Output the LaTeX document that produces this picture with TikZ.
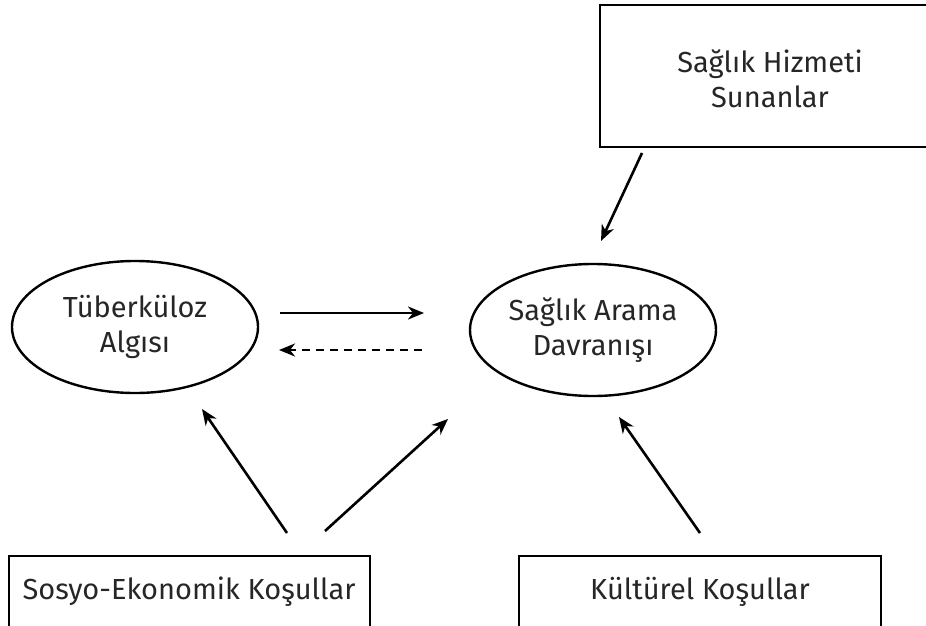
\documentclass[tikz,border=0pt]{standalone}
\usepackage{fontspec}
\setmainfont{Fira Sans}
\usetikzlibrary{arrows.meta,shapes.geometric}
\begin{document}
\begin{tikzpicture}[x=1pt,y=-1pt,
  every node/.style={font=\fontsize{29}{35}\selectfont, align=center, text=black!85},
  box/.style={draw, line width=1.5pt},
  oval/.style={draw, ellipse, line width=2.4pt, minimum width=246pt, minimum height=132pt, inner sep=0pt},
  arr/.style={line width=2.6pt, -{Stealth[length=16pt,width=13pt,inset=5pt]}},
  darr/.style={arr, dash pattern=on 8pt off 6pt}]
\useasboundingbox (0,0) rectangle (926,626);
\clip (0,0) rectangle (926,626);
\fill[white] (0,0) rectangle (926,626);
% boxes (cut by page edge)
\draw[box] (930,5) -- (600,5) -- (600,147) -- (930,147);
\draw[box] (9,640) -- (9,556) -- (370,556) -- (370,640);
\draw[box] (519,640) -- (519,556) -- (881,556) -- (881,640);
\node (shs) at (770,79) {Sağlık Hizmeti\\Sunanlar};
\node (sek) at (189,592) {Sosyo-Ekonomik Koşullar};
\node (kk) at (700,592) {Kültürel Koşullar};
% ellipses
\node[oval] (ta) at (135,327) {Tüberküloz\\Algısı};
\node[oval] (sad) at (593,330) {Sağlık Arama\\Davranışı};
% connector anchors
\coordinate (a1s) at (280,313); \coordinate (a1e) at (424,313);
\coordinate (a2s) at (422,350); \coordinate (a2e) at (279,350);
\coordinate (b1s) at (642,153); \coordinate (b1e) at (601,241);
\coordinate (c1s) at (287,533); \coordinate (c1e) at (202,409);
\coordinate (c2s) at (325,531); \coordinate (c2e) at (448,419);
\coordinate (d1s) at (700,533); \coordinate (d1e) at (619,417);
\draw[arr] (a1s) -- (a1e);
\draw[darr] (a2s) -- (a2e);
\draw[arr] (b1s) -- (b1e);
\draw[arr] (c1s) -- (c1e);
\draw[arr] (c2s) -- (c2e);
\draw[arr] (d1s) -- (d1e);
\end{tikzpicture}
\end{document}
